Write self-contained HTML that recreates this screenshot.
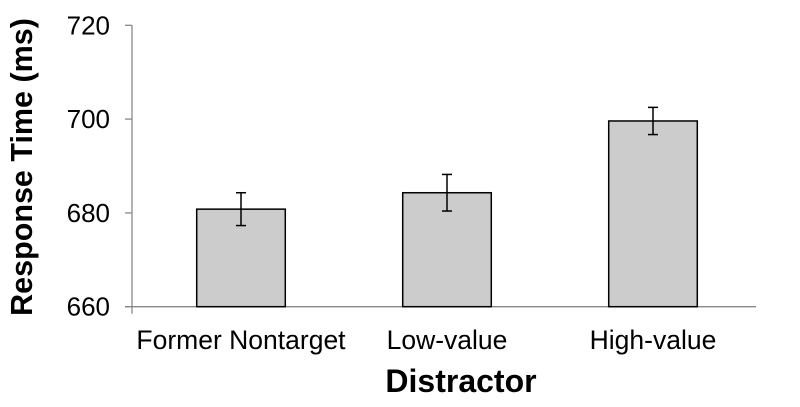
<!DOCTYPE html>
<html><head><meta charset="utf-8"><style>
body{margin:0;background:#fff;}
svg text{font-family:"Liberation Sans",Arial,sans-serif;fill:#000;}
</style></head><body>
<svg id="chart" width="800" height="402" viewBox="0 0 800 402" xmlns="http://www.w3.org/2000/svg">
<g id="axes"></g><g id="bars"></g>
<text transform="translate(32,167) rotate(-90)" text-anchor="middle" font-size="30.5" font-weight="bold">Response Time (ms)</text>
<text x="461" y="392" text-anchor="middle" font-size="32" font-weight="bold">Distractor</text>
</svg>
<script>
const categories=["Former Nontarget","Low-value","High-value"];
const values=[680.8,684.3,699.6];
const errors=[3.5,3.9,2.9];
const yTicks=[660,680,700,720];
const NS="http://www.w3.org/2000/svg";
const x0=132,xs=138,x1=756,yBase=306.7,yTop=25.3,yMin=660,yMax=720;
const y=v=>yBase-(v-yMin)/(yMax-yMin)*(yBase-yTop);
const band=(x1-xs)/categories.length;
const xc=i=>xs+band*(i+0.5);
function mk(t,a,p){const e=document.createElementNS(NS,t);for(const k in a)e.setAttribute(k,a[k]);p.appendChild(e);return e;}
const ax=document.getElementById('axes'),bg=document.getElementById('bars');
const yl=mk('line',{x1:x0,x2:x0,y1:yTop,y2:yBase,stroke:'#888','stroke-width':1.3},ax);


const xl=mk('line',{x1:x0-7,x2:x1,y1:yBase,y2:yBase,stroke:'#888','stroke-width':1.3},ax);


mk('line',{x1:x0,x2:x0,y1:yBase,y2:yBase+7,stroke:'#888','stroke-width':1.3},ax);
yTicks.forEach(v=>{
 mk('line',{x1:x0-7,x2:x0,y1:y(v),y2:y(v),stroke:'#888','stroke-width':1.3},ax);
 const t=mk('text',{x:x0-22,y:y(v)+9,'text-anchor':'end','font-size':26},ax);
 t.textContent=v;
 
 
});
categories.forEach((c,i)=>{
 const w=band*0.43,cx=xc(i);
 const r=mk('rect',{x:cx-w/2,y:y(values[i]),width:w,height:yBase-y(values[i]),fill:'#cccccc',stroke:'#000','stroke-width':1.5},bg);
 
 
 const eg=mk('g',{stroke:'#000','stroke-width':1.5},bg);
 
 
 const ex=cx;
 mk('line',{x1:ex,x2:ex,y1:y(values[i]+errors[i]),y2:y(values[i]-errors[i])},eg);
 mk('line',{x1:ex-5,x2:ex+5,y1:y(values[i]+errors[i]),y2:y(values[i]+errors[i])},eg);
 mk('line',{x1:ex-5,x2:ex+5,y1:y(values[i]-errors[i]),y2:y(values[i]-errors[i])},eg);
 const t=mk('text',{x:cx,y:349,'text-anchor':'middle','font-size':26.5},ax);
 t.textContent=c;
 
 
});
</script>
</body></html>
